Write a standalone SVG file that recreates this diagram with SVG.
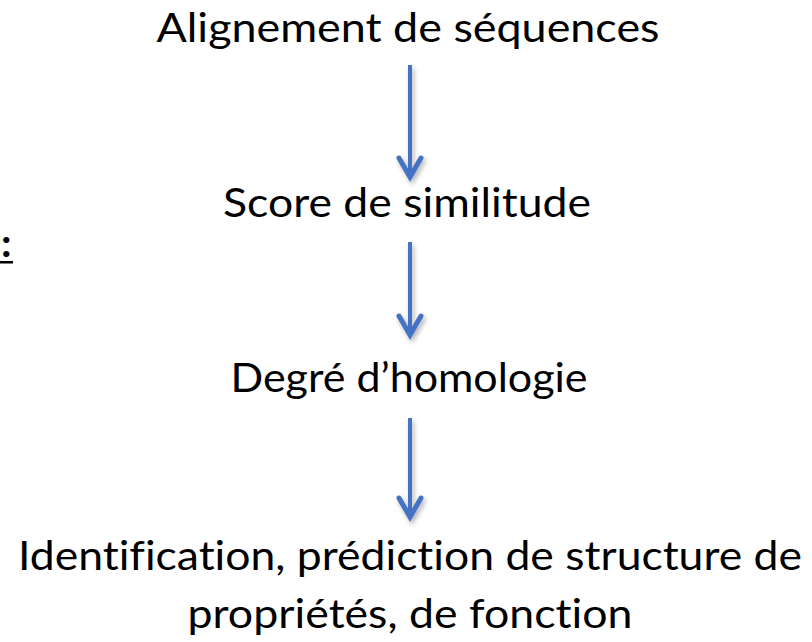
<svg xmlns="http://www.w3.org/2000/svg" width="812" height="642" viewBox="0 0 812 642">
<defs>
<style>
.t{font-family:Lato,"Open Sans","Liberation Sans",sans-serif;font-size:41px;fill:#000;text-anchor:middle;font-variant-ligatures:none;}
.a{stroke:#4472C4;stroke-width:4;fill:none;}
.h{stroke:#4472C4;stroke-width:5;fill:none;stroke-linejoin:miter;stroke-linecap:round;}
</style>
<filter id="sh" x="-50%" y="-10%" width="200%" height="130%">
<feDropShadow dx="2" dy="3" stdDeviation="2.5" flood-color="#000" flood-opacity="0.3"/>
</filter>
</defs>
<rect width="812" height="642" fill="#fff"/>
<g id="label-colon"><rect x="0" y="261" width="13" height="2.5" fill="#000"/><text x="1" y="257" font-family="Lato,'Liberation Sans',sans-serif" font-size="41" font-weight="bold">:</text></g>
<g id="n1"><text class="t" x="408" y="42" textLength="503" lengthAdjust="spacingAndGlyphs">Alignement de séquences</text></g>
<g id="n2"><text class="t" x="407" y="217" textLength="368" lengthAdjust="spacingAndGlyphs">Score de similitude</text></g>
<g id="n3"><text class="t" x="409" y="392" textLength="357" lengthAdjust="spacingAndGlyphs">Degré d’homologie</text></g>
<g id="n4"><text class="t" x="410" y="570" textLength="784" lengthAdjust="spacingAndGlyphs">Identification, prédiction de structure de</text>
<text class="t" x="410" y="628" textLength="445" lengthAdjust="spacingAndGlyphs">propriétés, de fonction</text></g>
<g id="connectors" filter="url(#sh)">
<path class="a" d="M410,65 V176"/><path class="h" d="M399,158 L410,177 L421,158"/>
<path class="a" d="M410,242 V334"/><path class="h" d="M399,316 L410,335 L421,316"/>
<path class="a" d="M410,418 V516"/><path class="h" d="M399,498 L410,517 L421,498"/>
</g>
</svg>
